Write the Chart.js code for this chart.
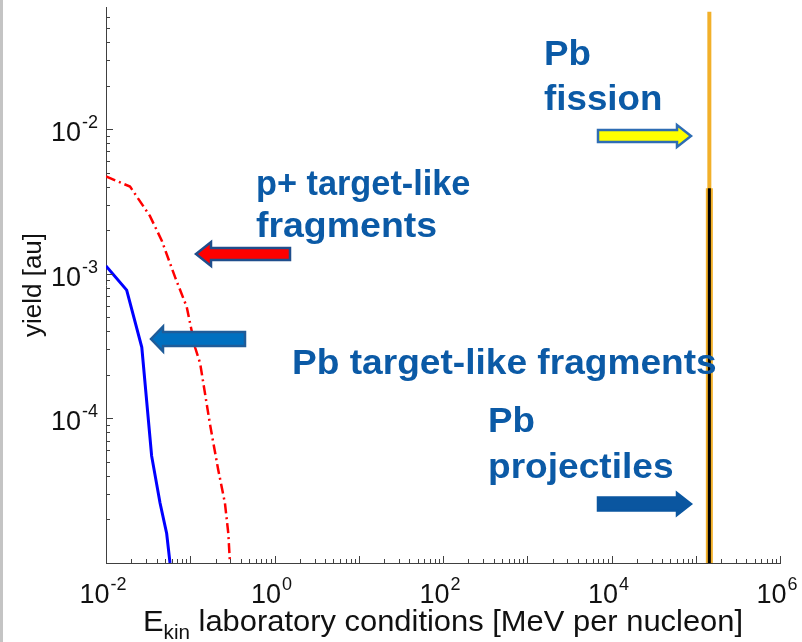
<!DOCTYPE html>
<html>
<head>
<meta charset="utf-8">
<script src="https://cdn.jsdelivr.net/npm/chart.js@4.4.1/dist/chart.umd.min.js"></script>
<style>
  html, body { margin: 0; padding: 0; background: #fff; }
  #wrap { position: relative; width: 802px; height: 642px; }
  #edge { position: absolute; left: 0; top: 0; width: 3px; height: 642px; background: #c4c4c4; }
</style>
</head>
<body>
<div id="wrap">
  <canvas id="yieldChart"></canvas>
  <div id="edge"></div>
</div>
<script>
// Pb target-like fragments (solid blue)
const pbTargetE = [0.01, 0.0176, 0.0266, 0.0348, 0.0438, 0.0525, 0.0575];
const pbTargetYield = [1.13e-3, 7.7e-4, 3.1e-4, 5.5e-5, 2.6e-5, 1.6e-5, 1.0e-5];

// p+ target-like fragments (red dash-dot)
const pTargetE = [0.01, 0.0193, 0.0333, 0.0458, 0.0659, 0.0908, 0.114, 0.131, 0.171, 0.186, 0.215, 0.258, 0.283, 0.296];
const pTargetYield = [4.7e-3, 4.0e-3, 2.5e-3, 1.7e-3, 9.5e-4, 5.9e-4, 3.1e-4, 2.4e-4, 9.2e-5, 7.0e-5, 4.4e-5, 2.6e-5, 1.6e-5, 1.0e-5];

// beam energy (MeV per nucleon) and the two vertical yield bands
const beamE = 1.45e5;
const fissionYield = [1e-5, 0.0646];
const projectileYield = [1e-5, 3.9e-3];

// decade labels on each axis
const xTickExps = [-2, 0, 2, 4, 6];
const yTickExps = [-4, -3, -2];

const X_MIN = 0.01, X_MAX = 1e6;
const Y_MIN = 1e-5, Y_MAX = 0.0698;

const pairs = (xs, ys) => xs.map((x, i) => ({ x, y: ys[i] }));

const FONT = '"Liberation Sans", Arial, sans-serif';
const NOTE_BLUE = '#0b5aa6';

function drawPow(ctx, exp, px, baseline, align) {
    const base = '10', sup = String(exp);
    ctx.font = `27px ${FONT}`;
    const wb = ctx.measureText(base).width;
    ctx.font = `18px ${FONT}`;
    const ws = ctx.measureText(sup).width;
    const total = wb + ws + 1;
    const left = align === 'right' ? px - total : px - total / 2 - 3;
    ctx.textAlign = 'left';
    ctx.textBaseline = 'alphabetic';
    ctx.font = `27px ${FONT}`;
    ctx.fillText(base, left, baseline);
    ctx.font = `18px ${FONT}`;
    ctx.fillText(sup, left + wb + 1, baseline - 13);
}

function blockArrow(ctx, tailX, tipX, cy, shaftH, headH, headL, fill, stroke) {
    const dir = Math.sign(tipX - tailX);
    const neck = tipX - dir * headL;
    ctx.beginPath();
    ctx.moveTo(tailX, cy - shaftH);
    ctx.lineTo(neck, cy - shaftH);
    ctx.lineTo(neck, cy - headH);
    ctx.lineTo(tipX, cy);
    ctx.lineTo(neck, cy + headH);
    ctx.lineTo(neck, cy + shaftH);
    ctx.lineTo(tailX, cy + shaftH);
    ctx.closePath();
    ctx.fillStyle = fill;
    ctx.fill();
    ctx.lineWidth = 2.5;
    ctx.lineJoin = 'miter';
    ctx.strokeStyle = stroke;
    ctx.stroke();
}

// text stretched horizontally by a small factor
function wideText(ctx, text, x, baseline, stretch) {
    ctx.save();
    ctx.translate(x, baseline);
    ctx.scale(stretch, 1);
    ctx.fillText(text, 0, 0);
    ctx.restore();
}

const axisDecor = {
    id: 'axisDecor',
    afterDraw(chart) {
        const { ctx, chartArea: a, scales: { x, y } } = chart;
        ctx.save();

        // inward tick marks, longer at each decade
        ctx.strokeStyle = '#404040';
        ctx.lineWidth = 1;
        ctx.beginPath();
        for (let e = -2; e <= 6; e++) {
            for (let m = 1; m <= 9; m++) {
                const v = m * Math.pow(10, e);
                if (v < X_MIN * 0.999 || v > X_MAX * 1.001) continue;
                const px = Math.round(x.getPixelForValue(v)) + 0.5;
                ctx.moveTo(px, a.bottom);
                ctx.lineTo(px, a.bottom - (m === 1 ? 7 : 4));
            }
        }
        for (let e = -5; e <= -2; e++) {
            for (let m = 1; m <= 9; m++) {
                const v = m * Math.pow(10, e);
                if (v < Y_MIN * 0.999 || v > Y_MAX) continue;
                const py = Math.round(y.getPixelForValue(v)) + 0.5;
                ctx.moveTo(a.left, py);
                ctx.lineTo(a.left + (m === 1 ? 7 : 4), py);
            }
        }
        ctx.stroke();

        // decade labels
        ctx.fillStyle = '#111';
        xTickExps.forEach(exp => {
            drawPow(ctx, exp, x.getPixelForValue(Math.pow(10, exp)), a.bottom + 40, 'center');
        });
        yTickExps.forEach(exp => {
            drawPow(ctx, exp, a.left - 8, y.getPixelForValue(Math.pow(10, exp)) + 12, 'right');
        });

        // axis titles
        ctx.font = `26px ${FONT}`;
        ctx.textBaseline = 'middle';
        ctx.textAlign = 'center';
        ctx.save();
        ctx.translate(34, (a.top + a.bottom) / 2);
        ctx.rotate(-Math.PI / 2);
        ctx.fillText('yield [au]', 0, 0);
        ctx.restore();

        ctx.textBaseline = 'alphabetic';
        ctx.textAlign = 'left';
        const st = 1.03;
        let tx = 143;
        const tb = 631;
        ctx.font = `30px ${FONT}`;
        wideText(ctx, 'E', tx, tb, st);
        tx += ctx.measureText('E').width * st;
        ctx.font = `20px ${FONT}`;
        wideText(ctx, 'kin', tx, tb + 8, st);
        tx += ctx.measureText('kin').width * st;
        ctx.font = `30px ${FONT}`;
        wideText(ctx, ' laboratory conditions [MeV per nucleon]', tx, tb, st);

        // callout arrows
        blockArrow(ctx, 598, 691, 136, 6, 11, 14, '#ffff00', '#2e6db4');
        blockArrow(ctx, 290, 196, 254, 6, 12, 15, '#ff0000', '#1f4e8c');
        blockArrow(ctx, 245, 151, 339, 7, 12.5, 12, '#0070c0', '#1f5c99');
        blockArrow(ctx, 598, 691, 504, 6.5, 11, 14, '#0a56a0', '#0a56a0');

        // callout labels
        ctx.fillStyle = NOTE_BLUE;
        ctx.font = `bold 35px ${FONT}`;
        wideText(ctx, 'Pb', 544, 65, 1.05);
        wideText(ctx, 'fission', 544, 110, 1.05);
        wideText(ctx, 'p+ target-like', 256, 195, 0.98);
        wideText(ctx, 'fragments', 256, 237, 1.07);
        wideText(ctx, 'Pb target-like fragments', 292, 374, 1.06);
        wideText(ctx, 'Pb', 488, 432, 1.05);
        wideText(ctx, 'projectiles', 488, 478, 1.06);

        ctx.restore();
    }
};

new Chart(document.getElementById('yieldChart'), {
    type: 'line',
    data: {
        datasets: [
            {
                label: 'Pb projectiles',
                data: pairs([beamE, beamE], projectileYield),
                borderColor: '#000000',
                borderWidth: 3,
                pointRadius: 0,
                order: 0
            },
            {
                label: 'Pb projectiles (halo)',
                data: pairs([beamE, beamE], projectileYield),
                borderColor: '#f2b02a',
                borderWidth: 7,
                pointRadius: 0,
                order: 1
            },
            {
                label: 'Pb fission',
                data: pairs([beamE, beamE], fissionYield),
                borderColor: '#f2b02a',
                borderWidth: 4,
                pointRadius: 0,
                order: 2
            },
            {
                label: 'Pb target-like fragments',
                data: pairs(pbTargetE, pbTargetYield),
                borderColor: '#0000ff',
                borderWidth: 3,
                pointRadius: 0,
                tension: 0,
                order: 3
            },
            {
                label: 'p+ target-like fragments',
                data: pairs(pTargetE, pTargetYield),
                borderColor: '#ff0000',
                borderWidth: 2.5,
                borderDash: [10, 4, 2, 4],
                pointRadius: 0,
                tension: 0,
                order: 4
            }
        ]
    },
    options: {
        responsive: true,
        maintainAspectRatio: false,
        animation: false,
        layout: { padding: { left: 106, right: 22, top: 7, bottom: 79 } },
        plugins: { legend: { display: false }, tooltip: { enabled: false } },
        scales: {
            x: {
                type: 'logarithmic',
                min: X_MIN,
                max: X_MAX,
                ticks: { display: false },
                grid: { display: false, drawTicks: false },
                border: { display: true, color: '#404040', width: 1 }
            },
            y: {
                type: 'logarithmic',
                min: Y_MIN,
                max: Y_MAX,
                ticks: { display: false },
                grid: { display: false, drawTicks: false },
                border: { display: true, color: '#404040', width: 1 }
            }
        }
    },
    plugins: [axisDecor]
});
</script>
</body>
</html>
